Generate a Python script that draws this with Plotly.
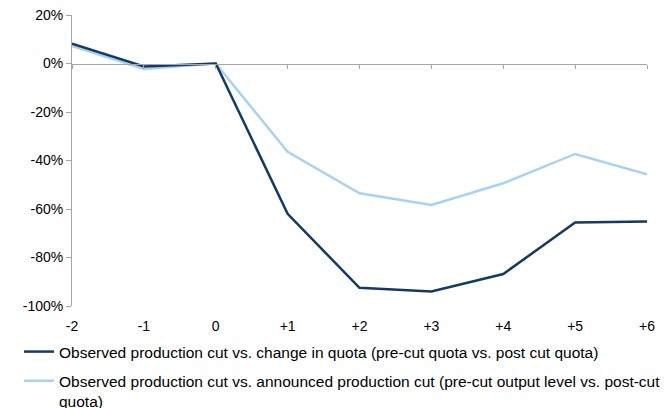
import plotly.graph_objects as go

# Months relative to the cut announcement
periods = ["-2", "-1", "0", "+1", "+2", "+3", "+4", "+5", "+6"]

# Observed cut vs. change in quota (%)
quota_change = [8.2, -1.2, 0.0, -62.0, -92.5, -94.0, -86.8, -65.6, -65.2]
# Observed cut vs. announced cut (%)
announced_cut = [7.2, -2.3, 0.0, -36.4, -53.5, -58.3, -49.4, -37.3, -45.7]

y_ticks = [20, 0, -20, -40, -60, -80, -100]
y_labels = ["20%", "0%", "-20%", "-40%", "-60%", "-80%", "-100%"]

name_quota = "Observed production cut vs. change in quota (pre-cut quota vs. post cut quota)"
name_announced = ("Observed production cut vs. announced production cut (pre-cut output level vs. post-cut"
                  "<br>quota)")

DARK = "#133a63"
LIGHT = "#a9d2f2"
AXIS = "#a6a6a6"
FONT = "Liberation Sans, Arial, sans-serif"

x_idx = list(range(len(periods)))
y_min, y_max = -100, 20

W, H = 667, 408
L, R, T, B = 72, 20, 15, 102
plot_w, plot_h = W - L - R, H - T - B

fig = go.Figure()
fig.add_trace(go.Scatter(
    x=x_idx, y=announced_cut, mode="lines", name=name_announced,
    line=dict(color=LIGHT, width=2.5), legendrank=2, legendgroup="b",
))
fig.add_trace(go.Scatter(
    x=x_idx, y=quota_change, mode="lines", name=name_quota,
    line=dict(color=DARK, width=2.5), legendrank=1, legendgroup="a",
))
# invisible trace so the zero-line axis is drawn
fig.add_trace(go.Scatter(
    x=[0], y=[0], xaxis="x2", mode="markers",
    marker=dict(opacity=0), showlegend=False, hoverinfo="skip",
))

fig.update_layout(
    width=W, height=H,
    margin=dict(l=L, r=R, t=T, b=B, autoexpand=False),
    paper_bgcolor="white", plot_bgcolor="white",
    font=dict(family=FONT, size=14, color="#000000"),
    showlegend=True,
    legend=dict(
        x=(19 - L) / plot_w, y=-(335 - (T + plot_h)) / plot_h,
        xanchor="left", yanchor="top",
        bgcolor="rgba(0,0,0,0)", valign="top",
        tracegroupgap=6, font=dict(size=15.5),
    ),
    xaxis=dict(
        range=[0, len(periods) - 1],
        tickmode="array", tickvals=x_idx, ticktext=periods,
        showgrid=False, zeroline=False, showline=False, ticks="",
        ticklabelstandoff=10,
    ),
    # horizontal axis line drawn through 0% with its tick marks
    xaxis2=dict(
        overlaying="x", anchor="free",
        position=(0 - y_min) / (y_max - y_min),
        range=[0, len(periods) - 1],
        tickmode="array", tickvals=x_idx, showticklabels=False,
        showgrid=False, zeroline=False,
        showline=True, linecolor=AXIS, linewidth=1,
        ticks="outside", ticklen=4, tickcolor=AXIS,
    ),
    yaxis=dict(
        range=[y_min, y_max],
        tickmode="array", tickvals=y_ticks, ticktext=y_labels,
        showgrid=False, zeroline=False,
        showline=True, linecolor=AXIS, linewidth=1,
        ticks="outside", ticklen=5, tickcolor=AXIS,
    ),
)

fig.write_html("out.html")
